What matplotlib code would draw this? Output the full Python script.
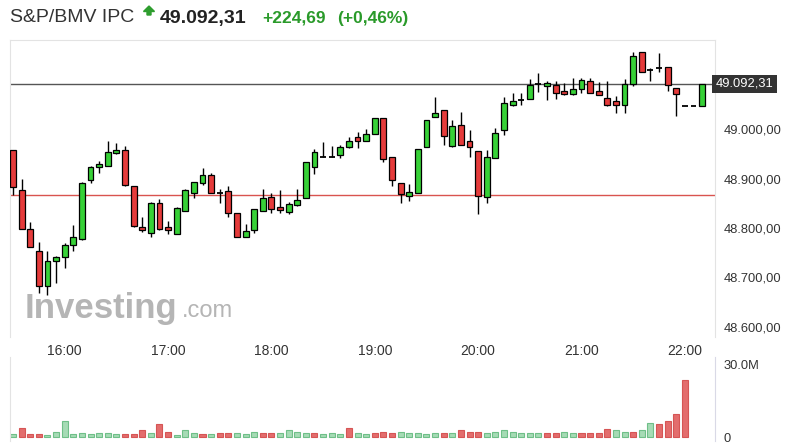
import numpy as np
import pandas as pd
import matplotlib
matplotlib.use('Agg')
import matplotlib.pyplot as plt
from matplotlib.patches import Polygon

plt.rcParams['font.family'] = ['Liberation Sans', 'DejaVu Sans']

# 5 minute candles, 15:30 .. 22:10
times = pd.date_range('2024-01-01 15:30', periods=81, freq='5min')

opens = [48958, 48877, 48798.6, 48752.8, 48682.5, 48733.1, 48740.6, 48765.6, 48777.7, 48897.3,
         48923, 48925.6, 48952.6, 48958, 48885.1, 48802.6, 48790.5, 48850.1, 48801.4, 48787.8,
         48834.5, 48870.3, 48891.8, 48907.4, 48870.3, 48874.4, 48831, 48781.2, 48796, 48834.5,
         48862.2, 48841.5, 48833, 48846.6, 48860.2, 48923, 48944.5, 48944.5, 48947.9, 48964.7,
         48983.8, 48976.3, 48991.1, 49022.3, 48943.3, 48891.8, 48865.5, 48869.9, 48964.7, 49024.3,
         49039.1, 48966.2, 49008.7, 48976.3, 48956.6, 48863.4, 48941.8, 48998.6, 49049.2, 49059.4,
         49062, 49091.8, 49087.7, 49090.4, 49077.6, 49071.5, 49082.3, 49097.3, 49077, 49062.8,
         49057.3, 49049.2, 49091.8, 49156, 49119.6, 49124.2, 49125.6, 49083.1, 49047.2, 49047.2,
         49047.2]
highs = [48958, 48898.7, 48812.2, 48771, 48754, 48743.3, 48769, 48806.7, 48893.8, 48925.6,
         48935.2, 48976.3, 48971.6, 48966.2, 48885.1, 48821.7, 48853.3, 48858.2, 48814.8, 48842,
         48879.6, 48893.8, 48921, 48910.8, 48878.4, 48885.1, 48831, 48807.5, 48839.1, 48878.4,
         48870.3, 48877, 48852.1, 48878.4, 48933.1, 48960.1, 48973.7, 48966.8, 48968.2, 48984.4,
         48993.9, 49000.6, 49022.3, 49022.3, 48943.3, 48891.8, 48888.6, 48959.1, 49018.8, 49064.8,
         49039.1, 49018.8, 49034.4, 48998.6, 48956.6, 48958.1, 49002, 49064.8, 49072.9, 49072.9,
         49101.3, 49113.5, 49098.5, 49097.3, 49093.2, 49103.3, 49103.3, 49103.3, 49095.8, 49098.5,
         49067.5, 49101.3, 49157.2, 49156, 49123.6, 49155.2, 49125.6, 49083.1, 49047.2, 49047.2,
         49092.31]
lows = [48867, 48798.6, 48760.9, 48667.7, 48664.2, 48689.2, 48718.3, 48752.8, 48775.7, 48891.8,
        48912.1, 48925.6, 48950, 48885.1, 48802, 48791.9, 48782.4, 48796, 48787.8, 48787.8,
        48834.5, 48860.2, 48887.1, 48870.3, 48851.3, 48822.9, 48781.2, 48781.2, 48790.5, 48834.5,
        48831, 48831, 48827.8, 48844, 48860.2, 48908.8, 48944.5, 48944.5, 48942.5, 48962.7,
        48962.7, 48976.3, 48991.1, 48933.1, 48884.5, 48850.1, 48854.7, 48869.9, 48964.7, 49024.3,
        48968.2, 48963.5, 48968.2, 48943.3, 48828.4, 48851.3, 48941.8, 48987.8, 49047.2, 49049.2,
        49062, 49075, 49059.4, 49062, 49069.5, 49068.9, 49074.2, 49074.2, 49068.9, 49047.2,
        49033.6, 49033.6, 49087.7, 49116.7, 49098.5, 49116.1, 49078.2, 49027, 49047.2, 49047.2,
        49047.2]
closes = [48882.5, 48798.6, 48760.9, 48682.5, 48733.1, 48740.6, 48766.2, 48781.2, 48890.6, 48923,
          48929.1, 48953.4, 48958, 48886.5, 48804.7, 48796, 48851.3, 48797.4, 48795.3, 48839.9,
          48877, 48892.6, 48907.4, 48870.3, 48870.3, 48831, 48781.2, 48793.3, 48839.1, 48861.4,
          48839.1, 48835.9, 48848, 48857.3, 48933.1, 48953.4, 48944.5, 48944.5, 48964.1, 48976.3,
          48976.3, 48991.1, 49022.3, 48939.8, 48896.7, 48869.5, 48872.3, 48959.1, 49018.8, 49032.4,
          48986.4, 49006.7, 48968.2, 48963.5, 48864.8, 48944.5, 48991.9, 49052.7, 49056.7, 49059.4,
          49089.2, 49091.8, 49094.4, 49074.2, 49071.5, 49082.3, 49099.9, 49074.2, 49068.9, 49048.6,
          49049.8, 49091.2, 49148.5, 49116.7, 49119.6, 49124.2, 49089.8, 49071.5, 49047.2, 49047.2,
          49092.31]

# volume (millions), one bar per candle up to 22:00
volume = [1.4, 3.8, 1.4, 1.4, 0.8, 1.9, 6.4, 1.4, 1.8, 1.4,
          1.8, 1.8, 1.4, 1.4, 1.4, 2.9, 1.8, 5.5, 1.9, 0.8,
          2.7, 1.8, 1.4, 1.4, 1.8, 1.8, 1.8, 1.4, 2.2, 1.8,
          1.8, 1.8, 2.7, 2.2, 1.8, 1.8, 1.4, 1.8, 1.4, 3.8,
          1.8, 1.4, 1.8, 2.2, 1.8, 2.2, 1.8, 1.8, 1.4, 1.8,
          1.8, 1.8, 2.7, 2.2, 2.2, 1.8, 2.2, 2.7, 2.2, 1.8,
          1.8, 1.8, 1.8, 1.8, 2.2, 1.8, 1.8, 1.8, 1.8, 3.4,
          2.7, 2.2, 2.2, 2.7, 5.9, 5.5, 6.4, 9.6, 23.3]
vol_up = 'grrrgggggggggrrrgrrgggrgrrgggrrggggrgggrggrrrgggggrgrrrgggggggrrggrrrrggrggrrrr'

last_price = 49092.31
prev_close = 48867.62
price_ticks = [48600, 48700, 48800, 48900, 49000]

W, H = 787, 448
fig = plt.figure(figsize=(W / 100, H / 100), dpi=100)


def px_box(x0, y0, x1, y1):
    return [x0 / W, 1 - y1 / H, (x1 - x0) / W, (y1 - y0) / H]


def num_fmt(v):
    s = '{:,.2f}'.format(v)
    return s.replace(',', 'X').replace('.', ',').replace('X', '.')


ax = fig.add_axes(px_box(10, 40, 715, 337))
axv = fig.add_axes(px_box(10, 357, 715, 441))

x = np.arange(len(closes))
GREEN = '#37d137'
RED = '#e53b3b'
bw = 0.68

for i in x:
    o, h, l, c = opens[i], highs[i], lows[i], closes[i]
    if h > l:
        ax.vlines(i, l, h, color='black', lw=1, zorder=2)
    if o == c:
        ax.hlines(c, i - bw / 2, i + bw / 2, color='black', lw=1.3, zorder=3)
    else:
        col = GREEN if c > o else RED
        ax.bar(i, abs(c - o), bottom=min(o, c), width=bw, color=col,
               edgecolor='black', linewidth=0.9, zorder=3)

ax.axhline(last_price, color='#555555', lw=1, zorder=1)
ax.axhline(prev_close, color='#d9534f', lw=1, zorder=1)

ax.set_xlim(-0.35, 81.5)
ax.set_ylim(48579, 49181)
ax.yaxis.tick_right()
ax.set_yticks(price_ticks)
ax.set_yticklabels([num_fmt(v) for v in price_ticks])
hour_idx = [i for i, t in enumerate(times) if t.minute == 0]
ax.set_xticks(hour_idx)
ax.set_xticklabels([times[i].strftime('%H:%M') for i in hour_idx])
ax.tick_params(axis='y', length=0, pad=6, labelsize=9.3, labelcolor='#333333')
ax.tick_params(axis='x', length=0, pad=5, labelsize=10, labelcolor='#333333')
for s in ['left', 'right', 'top']:
    ax.spines[s].set_color('#e3e3e3')
ax.spines['bottom'].set_visible(False)

# current price tag
ax.text(1.001, last_price, num_fmt(last_price), transform=ax.get_yaxis_transform(),
        ha='left', va='center', color='white', fontsize=9.3, clip_on=False,
        bbox=dict(boxstyle='square,pad=0.25', fc='#333333', ec='none'))

# watermark
fig.text(25 / W, 1 - 318 / H, 'Investing', fontsize=25, fontweight='bold',
         color='#9c9c9c', alpha=0.75, zorder=0)
fig.text(182 / W, 1 - 317 / H, '.com', fontsize=17, color='#9c9c9c', alpha=0.75, zorder=0)

# volume panel
vcols = ['#a6dbb5' if u == 'g' else '#e36d6d' for u in vol_up]
ecols = ['#6fbf88' if u == 'g' else '#d65555' for u in vol_up]
xv = np.arange(len(volume))
axv.bar(xv, np.array(volume) * 1e6, width=0.7, color=vcols, edgecolor=ecols, linewidth=0.8)
axv.set_xlim(-0.35, 81.5)
axv.set_ylim(-1.64e6, 32.9e6)
axv.yaxis.tick_right()
axv.set_yticks([0, 30e6])
axv.set_yticklabels(['0', '30.0M'])
axv.set_xticks([])
axv.tick_params(axis='y', length=0, pad=6, labelsize=9.3, labelcolor='#333333')
for s in ['top', 'bottom']:
    axv.spines[s].set_visible(False)
axv.spines['left'].set_color('#e3e3e3')
axv.spines['right'].set_color('#d9d9e6')
axv.patch.set_alpha(0)

# header
fig.text(10 / W, 1 - 18 / H, 'S&P/BMV IPC', fontsize=14, color='#333333', va='center')
arrow = Polygon([(149 / W, 1 - 6 / H), (143.5 / W, 1 - 11.5 / H), (147 / W, 1 - 11.5 / H),
                 (147 / W, 1 - 15 / H), (151 / W, 1 - 15 / H), (151 / W, 1 - 11.5 / H),
                 (154.5 / W, 1 - 11.5 / H)], closed=True, transform=fig.transFigure,
                color='#2e9d2e')
fig.patches.append(arrow)
fig.text(160 / W, 1 - 18 / H, '49.092,31', fontsize=14, fontweight='bold', color='#222222', va='center')
fig.text(262 / W, 1 - 18 / H, '+224,69', fontsize=12.5, fontweight='bold', color='#2a9a2a', va='center')
fig.text(337 / W, 1 - 18 / H, '(+0,46%)', fontsize=12.5, fontweight='bold', color='#2a9a2a', va='center')

fig.savefig('out.png', dpi=100)
